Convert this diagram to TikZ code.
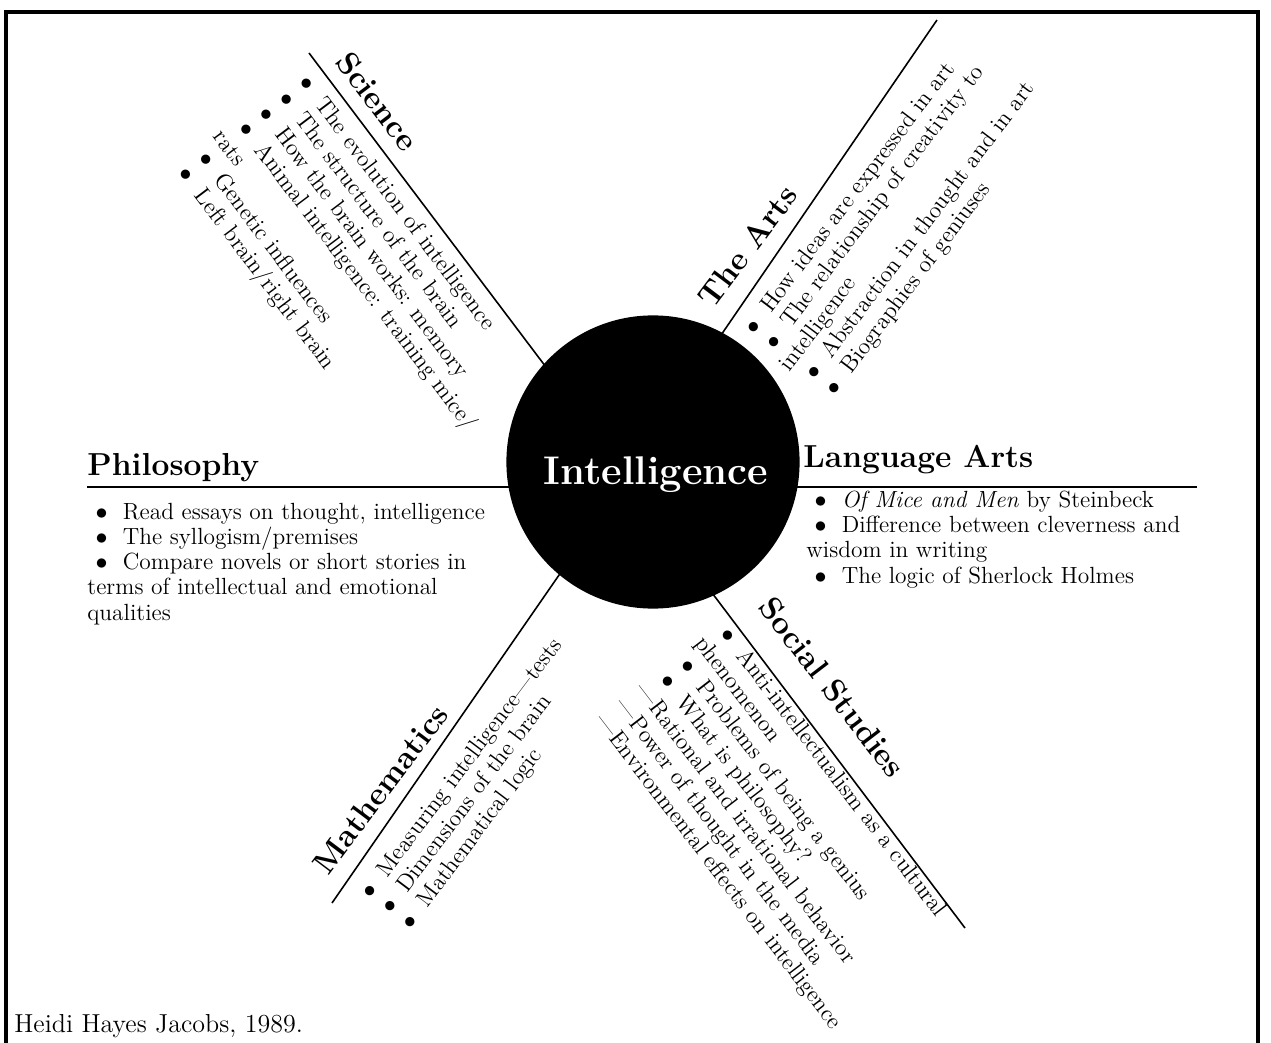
\documentclass[tikz,border=0pt]{standalone}
\newcommand{\itm}{\hspace*{.35em}$\bullet$\hspace{.65em}}

\begin{document}
\begin{tikzpicture}[x=0.5pt,y=-0.5pt,
                    hub/.style={circle,fill=black,inner sep=0pt,minimum size=146.6pt},
                    hubtext/.style={text=white,inner sep=0pt,anchor=base,font=\fontsize{20}{24}\selectfont\bfseries},
                    head/.style={inner sep=0pt,anchor=base west,font=\fontsize{15.9}{18}\selectfont\bfseries},
                    items/.style={inner sep=0pt,anchor=base west,align=left,font=\fontsize{11.7}{12.6}\selectfont},
                    spoke/.style={line width=0.8pt},
                    frame/.style={line width=1.8pt}]
  \useasboundingbox (0,0) rectangle (1271,1043);

  % 外框(底边在图外)
  \draw[frame] (6,1043) -- (6,12) -- (1258,12) -- (1258,1043);

  % 辐条的端点
  \coordinate (sciOut)  at (309,53);   \coordinate (sciIn)  at (561,387);
  \coordinate (artOut)  at (937,20);   \coordinate (artIn)  at (706,357);
  \coordinate (mathOut) at (332,903);  \coordinate (mathIn) at (575,552);
  \coordinate (socOut)  at (965,928);  \coordinate (socIn)  at (697,573);
  \coordinate (phiOut)  at (87,487);   \coordinate (laOut)  at (1197,487);

  % 辐条:先画,圆盖在上面
  \draw[spoke] (sciOut)  -- (sciIn);
  \draw[spoke] (artOut)  -- (artIn);
  \draw[spoke] (mathOut) -- (mathIn);
  \draw[spoke] (socOut)  -- (socIn);
  \draw[spoke] (phiOut)  -- (laOut);

  % 中心圆
  \node[hub] (hub) at (653,462) {};
  \node[hubtext] (hubLbl) at (656,485) {Intelligence};

  % 各列表的 base 是最后一行的基线
  % Science
  \node[head,rotate=-53] (sciTitle) at (334,62) {Science};
  \node[items,rotate=-53] (sciList) at (172,167)
    {\itm The evolution of intelligence\\ \itm The structure of the brain\\
     \itm How the brain works: memory\\ \itm Animal intelligence: training mice/\\
     rats\\ \itm Genetic influences\\ \itm Left brain/right brain};

  % The Arts
  \node[head,rotate=53] (artTitle) at (713,310) {The Arts};
  \node[items,rotate=53] (artList) at (830,403)
    {\itm How ideas are expressed in art\\ \itm The relationship of creativity to\\
     intelligence\\ \itm Abstraction in thought and in art\\ \itm Biographies of geniuses};

  % Philosophy
  \node[head] (phiTitle) at (87,476) {Philosophy};
  \node[items] (phiList) at (87,620)
    {\itm Read essays on thought, intelligence\\ \itm The syllogism/premises\\
     \itm Compare novels or short stories in\\ terms of intellectual and emotional\\ qualities};

  % Language Arts
  \node[head] (laTitle) at (803,468) {Language Arts};
  \node[items] (laList) at (806,583)
    {\itm \textit{Of Mice and Men} by Steinbeck\\ \itm Difference between cleverness and\\
     wisdom in writing\\ \itm The logic of Sherlock Holmes};

  % Mathematics
  \node[head,rotate=53] (mathTitle) at (328,877) {Mathematics};
  \node[items,rotate=53] (mathList) at (406,937)
    {\itm Measuring intelligence---tests\\ \itm Dimensions of the brain\\ \itm Mathematical logic};

  % Social Studies
  \node[head,rotate=-52.5] (socTitle) at (757,607) {Social Studies};
  \node[items,rotate=-52.5] (socList) at (594,720)
    {\itm Anti-intellectualism as a cultural\\ phenomenon\\ \itm Problems of being a genius\\
     \itm What is philosophy?\\ ---Rational and irrational behavior\\
     ---Power of thought in the media\\ ---Environmental effects on intelligence};

  % 出处
  \node[inner sep=0pt,anchor=base west,font=\fontsize{13}{15}\selectfont] (credit) at (14,1032)
    {Heidi Hayes Jacobs, 1989.};
\end{tikzpicture}
\end{document}
